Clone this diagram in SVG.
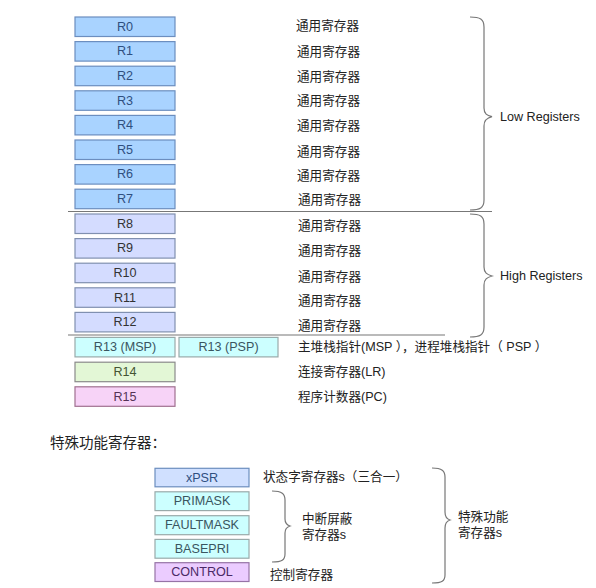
<svg xmlns="http://www.w3.org/2000/svg" width="596" height="588" viewBox="0 0 596 588">
<style>
text{font-family:"Liberation Sans","Noto Sans CJK SC",sans-serif;font-size:12.6px;fill:#222}
.c{text-anchor:middle;dominant-baseline:central}
.l{dominant-baseline:central}
.lo rect{fill:#a9d3ff;stroke:#6c8ebf;stroke-width:1.2}
.lo text{fill:#2f4f7f}
.hi rect{fill:#d4dcff;stroke:#8090b0;stroke-width:1.2}
.hi text{fill:#333}
.cy rect{fill:#ccffff;stroke:#9aa;stroke-width:1.2}
.cy text{fill:#3a5560}
.gr rect{fill:#e3f7d6;stroke:#8a8a8a;stroke-width:1.2}
.gr text{fill:#445533}
.pk rect{fill:#f7d3f7;stroke:#a07090;stroke-width:1.2}
.pk text{fill:#553355}
.xp rect{fill:#d0e0ff;stroke:#6c8ebf;stroke-width:1.2}
.xp text{fill:#2f4f7f}
.ct rect{fill:#ebccff;stroke:#9673a6;stroke-width:1.2}
.ct text{fill:#4a2a66}
.br{fill:none;stroke:#777;stroke-width:1.2}
.sep{stroke:#777;stroke-width:1.2}
</style>
<g id="R0" class="lo"><rect x="75" y="17" width="100" height="19.5"/><text class="c" x="125" y="26.7">R0</text></g>
<g id="R1" class="lo"><rect x="75" y="41.6" width="100" height="19.5"/><text class="c" x="125" y="51.3">R1</text></g>
<g id="R2" class="lo"><rect x="75" y="66.2" width="100" height="19.5"/><text class="c" x="125" y="75.9">R2</text></g>
<g id="R3" class="lo"><rect x="75" y="90.8" width="100" height="19.5"/><text class="c" x="125" y="100.5">R3</text></g>
<g id="R4" class="lo"><rect x="75" y="115.4" width="100" height="19.5"/><text class="c" x="125" y="125.1">R4</text></g>
<g id="R5" class="lo"><rect x="75" y="140" width="100" height="19.5"/><text class="c" x="125" y="149.7">R5</text></g>
<g id="R6" class="lo"><rect x="75" y="164.6" width="100" height="19.5"/><text class="c" x="125" y="174.3">R6</text></g>
<g id="R7" class="lo"><rect x="75" y="189.2" width="100" height="19.5"/><text class="c" x="125" y="198.9">R7</text></g>
<g id="R8" class="hi"><rect x="75" y="214" width="100" height="19.5"/><text class="c" x="125" y="223.7">R8</text></g>
<g id="R9" class="hi"><rect x="75" y="238.6" width="100" height="19.5"/><text class="c" x="125" y="248.3">R9</text></g>
<g id="R10" class="hi"><rect x="75" y="263.2" width="100" height="19.5"/><text class="c" x="125" y="272.9">R10</text></g>
<g id="R11" class="hi"><rect x="75" y="287.8" width="100" height="19.5"/><text class="c" x="125" y="297.5">R11</text></g>
<g id="R12" class="hi"><rect x="75" y="312.4" width="100" height="19.5"/><text class="c" x="125" y="322.1">R12</text></g>
<g id="R13MSP" class="cy"><rect x="75" y="337.4" width="100" height="19.5"/><text class="c" x="125" y="347.1">R13 (MSP)</text></g>
<g id="R13PSP" class="cy"><rect x="179" y="337.4" width="99" height="19.5"/><text class="c" x="228.5" y="347.1">R13 (PSP)</text></g>
<g id="R14" class="gr"><rect x="75" y="362.2" width="100" height="19.5"/><text class="c" x="125" y="371.9">R14</text></g>
<g id="R15" class="pk"><rect x="75" y="386.8" width="100" height="19.5"/><text class="c" x="125" y="396.5">R15</text></g>

<g id="labels">
<text class="l" x="296" y="25.7">通用寄存器</text>
<text class="l" x="297" y="51.5">通用寄存器</text>
<text class="l" x="297" y="76.5">通用寄存器</text>
<text class="l" x="297" y="101">通用寄存器</text>
<text class="l" x="297" y="126">通用寄存器</text>
<text class="l" x="297" y="151.5">通用寄存器</text>
<text class="l" x="297" y="175.5">通用寄存器</text>
<text class="l" x="298" y="200">通用寄存器</text>
<text class="l" x="298" y="225.5">通用寄存器</text>
<text class="l" x="298" y="250.5">通用寄存器</text>
<text class="l" x="298" y="276.5">通用寄存器</text>
<text class="l" x="298" y="301">通用寄存器</text>
<text class="l" x="298" y="325.5">通用寄存器</text>
<text class="l" x="298" y="347.3">主堆栈指针(MSP ），进程堆栈指针（ PSP ）</text>
<text class="l" x="298" y="372">连接寄存器(LR)</text>
<text class="l" x="298" y="396.5">程序计数器(PC)</text>
<text class="l" x="500" y="116.5">Low Registers</text>
<text class="l" x="500" y="276">High Registers</text>
<text class="l" x="50" y="443" style="font-size:14.5px">特殊功能寄存器：</text>
<text class="l" x="263" y="477.3">状态字寄存器s（三合一）</text>
<text class="l" x="302" y="519">中断屏蔽</text>
<text class="l" x="302" y="535">寄存器s</text>
<text class="l" x="458" y="516.5">特殊功能</text>
<text class="l" x="458" y="532.5">寄存器s</text>
<text class="l" x="270" y="574.5">控制寄存器</text>
</g>

<g id="xPSR" class="xp"><rect x="155" y="468.3" width="94" height="18.5"/><text class="c" x="202" y="477.5">xPSR</text></g>
<g id="PRIMASK" class="cy"><rect x="155" y="491.8" width="94" height="18.8"/><text class="c" x="202" y="501.2">PRIMASK</text></g>
<g id="FAULTMASK" class="cy"><rect x="155" y="515.7" width="94" height="19"/><text class="c" x="202" y="525.2">FAULTMASK</text></g>
<g id="BASEPRI" class="cy"><rect x="155" y="539.4" width="94" height="18.8"/><text class="c" x="202" y="548.8">BASEPRI</text></g>
<g id="CONTROL" class="ct"><rect x="155" y="562.7" width="94" height="18.8"/><text class="c" x="202" y="572.1">CONTROL</text></g>

<g id="connectors">
<line class="sep" x1="68" y1="211.5" x2="492" y2="211.5"/>
<line class="sep" x1="68" y1="335" x2="445" y2="335"/>
<path class="br" d="M470 17 C480 17 484 19 484 27 L484 108 C484 114 487 115.5 492 116.7 C487 118 484 120 484 126 L484 200 C484 208 480 210 470 210"/>
<path class="br" d="M470 214 C480 214 484 216 484 224 L484 267 C484 273 487 274.5 492 276 C487 277.5 484 279 484 285 L484 327 C484 335 480 337 470 337"/>
<path class="br" d="M272 491 C282 491 285 494 285 500 L285 519 C285 523 287 525 290 526 C287 527 285 529 285 533 L285 554 C285 560 282 562 272 562"/>
<path class="br" d="M432 468 C442 468 445 471 445 477 L445 512 C445 517 447 519 450 520 C447 521 445 523 445 528 L445 575 C445 581 442 583 432 583"/>
</g>
</svg>
